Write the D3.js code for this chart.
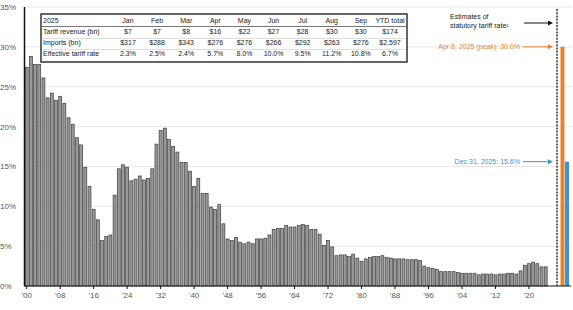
<!DOCTYPE html>
<html>
<head>
<meta charset="utf-8">
<script src="https://cdn.jsdelivr.net/npm/d3@7"></script>
<style>
body { margin: 0; background: #fff; }
svg { display: block; font-family: "Liberation Sans", Arial, sans-serif; }
</style>
</head>
<body>
<div id="chart"></div>
<script>
// effective tariff rate, 1900 - 2024 (%)
const startYear = 1900;
const rates = [
	27.4, 28.8, 27.8, 27.8, 26.1, 23.6, 24.2, 23.3, 23.8, 22.9,
	21.1, 20.3, 18.6, 17.7, 14.9, 12.5, 9.6, 8.3, 5.7, 6.2,
	6.4, 11.4, 14.7, 15.2, 14.9, 13.2, 13.4, 13.8, 13.3, 13.5,
	14.7, 17.8, 19.5, 19.8, 18.4, 17.5, 16.8, 15.5, 15.5, 14.4,
	12.5, 13.5, 11.6, 11.6, 9.9, 9.6, 10.2, 7.8, 5.9, 5.7,
	6.1, 5.5, 5.3, 5.5, 5.3, 5.9, 5.9, 6.0, 6.4, 7.1,
	7.2, 7.2, 7.6, 7.4, 7.4, 7.6, 7.7, 7.6, 7.1, 7.1,
	6.5, 5.1, 5.7, 4.9, 3.8, 3.9, 3.9, 3.7, 4.0, 3.5,
	3.1, 3.4, 3.6, 3.7, 3.7, 3.8, 3.6, 3.5, 3.4, 3.4,
	3.4, 3.3, 3.3, 3.3, 3.2, 2.5, 2.3, 2.2, 2.1, 1.8,
	1.8, 1.8, 1.8, 1.7, 1.6, 1.6, 1.6, 1.6, 1.4, 1.5,
	1.5, 1.5, 1.4, 1.5, 1.5, 1.6, 1.6, 1.5, 1.9, 2.6,
	2.8, 3.0, 2.8, 2.4, 2.4
];
const years = rates.map((d, i) => startYear + i);
const tickYears = [1900, 1908, 1916, 1924, 1932, 1940, 1948, 1956, 1964, 1972, 1980, 1988, 1996, 2004, 2012, 2020];
const yTicks = [0, 5, 10, 15, 20, 25, 30, 35];

// statutory estimates
const estLabels = ["Apr 8, 2025 (peak)", "Dec 31, 2025"];
const estValues = [30.0, 15.6];
const estColors = ["#e8832b", "#3b93d6"];

// 2025 table
const tableCols = ["Jan", "Feb", "Mar", "Apr", "May", "Jun", "Jul", "Aug", "Sep", "YTD total"];
const tableRows = ["Tariff revenue (bn)", "Imports (bn)", "Effective tariff rate"];
const revenue = ["$7", "$7", "$8", "$16", "$22", "$27", "$28", "$30", "$30", "$174"];
const imports = ["$317", "$288", "$343", "$276", "$276", "$266", "$292", "$263", "$276", "$2,597"];
const effRate = ["2.3%", "2.5%", "2.4%", "5.7%", "8.0%", "10.0%", "9.5%", "11.2%", "10.8%", "6.7%"];

const W = 573, H = 310;
const svg = d3.select("#chart").append("svg")
	.attr("width", W)
	.attr("height", H);

const x = d3.scaleBand()
	.domain(years)
	.range([24.6, 547.8])
	.paddingInner(0.3)
	.paddingOuter(0.15);

const xEst = d3.scaleBand()
	.domain(estLabels)
	.range([560.5, 569])
	.paddingInner(0.12);

const y = d3.scaleLinear()
	.domain([0, 35])
	.range([286, 7]);

// gridlines
svg.append("g")
	.selectAll("line")
	.data(yTicks.slice(1))
	.join("line")
	.attr("x1", 25).attr("x2", 572)
	.attr("y1", d => y(d)).attr("y2", d => y(d))
	.attr("stroke", "#e6e6e6")
	.attr("stroke-width", 1);

// y labels
svg.append("g")
	.selectAll("text")
	.data(yTicks)
	.join("text")
	.attr("x", 0)
	.attr("y", d => y(d) + 3)
	.attr("font-size", 8)
	.attr("fill", "#555")
	.text(d => d + "%");

// bars
svg.append("g")
	.selectAll("rect")
	.data(rates)
	.join("rect")
	.attr("x", (d, i) => x(years[i]))
	.attr("y", d => y(d))
	.attr("width", x.bandwidth())
	.attr("height", d => y(0) - y(d))
	.attr("fill", "#9a9a9a")
	.attr("stroke", "#3a3a3a")
	.attr("stroke-width", 0.7);

// estimate bars
svg.append("g")
	.selectAll("rect")
	.data(estValues)
	.join("rect")
	.attr("x", (d, i) => xEst(estLabels[i]))
	.attr("y", d => y(d))
	.attr("width", xEst.bandwidth())
	.attr("height", d => y(0) - y(d))
	.attr("fill", (d, i) => estColors[i]);

// dashed divider
svg.append("line")
	.attr("x1", 557).attr("x2", 557)
	.attr("y1", 9).attr("y2", y(0))
	.attr("stroke", "#222")
	.attr("stroke-width", 1.4)
	.attr("stroke-dasharray", "2,1.2");

// axes
svg.append("line")
	.attr("x1", 24.5).attr("x2", 24.5)
	.attr("y1", y(35)).attr("y2", y(0))
	.attr("stroke", "#111").attr("stroke-width", 1.5);
svg.append("line")
	.attr("x1", 24).attr("x2", 571)
	.attr("y1", y(0)).attr("y2", y(0))
	.attr("stroke", "#111").attr("stroke-width", 1.2);

const xt = svg.append("g")
	.selectAll("g")
	.data(tickYears)
	.join("g")
	.attr("transform", d => `translate(${x(d) + x.bandwidth() / 2},${y(0)})`);
xt.append("line").attr("y2", 3).attr("stroke", "#111");
xt.append("text")
	.attr("y", 12)
	.attr("text-anchor", "middle")
	.attr("font-size", 8)
	.attr("fill", "#555")
	.text(d => "'" + String(d).slice(2));

// annotations
const arrow = (x1, x2, yy, col) => {
	svg.append("line")
		.attr("x1", x1).attr("x2", x2 - 4)
		.attr("y1", yy).attr("y2", yy)
		.attr("stroke", col).attr("stroke-width", 1);
	svg.append("path")
		.attr("d", `M${x2},${yy}L${x2 - 5},${yy - 2.5}L${x2 - 5},${yy + 2.5}Z`)
		.attr("fill", col);
};

svg.append("text")
	.attr("x", 450).attr("y", 19)
	.attr("font-size", 7).attr("fill", "#222")
	.text("Estimates of");
svg.append("text")
	.attr("x", 450).attr("y", 27.5)
	.attr("font-size", 7).attr("fill", "#222")
	.text("statutory tariff rate¹");
arrow(524, 553, 23, "#111");

estLabels.forEach((lab, i) => {
	const yy = y(estValues[i]);
	svg.append("text")
		.attr("x", 520).attr("y", yy + 2.5)
		.attr("text-anchor", "end")
		.attr("font-size", 7)
		.attr("fill", estColors[i])
		.text(`${lab}: ${estValues[i].toFixed(1)}%`);
	arrow(523, 553, yy, estColors[i]);
});

// 2025 table
const tb = svg.append("g");
tb.append("rect")
	.attr("x", 41).attr("y", 14)
	.attr("width", 366).attr("height", 48)
	.attr("fill", "#fff")
	.attr("stroke", "#333")
	.attr("stroke-width", 1.5);

const cx = d3.scalePoint()
	.domain(tableCols)
	.range([128, 390]);

const rowY = [33.5, 44.5, 55.5];
tb.append("line")
	.attr("x1", 42).attr("x2", 406)
	.attr("y1", 26.5).attr("y2", 26.5)
	.attr("stroke", "#555").attr("stroke-width", 0.8);
[38.5, 49.5].forEach(v => {
	tb.append("line")
		.attr("x1", 42).attr("x2", 406)
		.attr("y1", v).attr("y2", v)
		.attr("stroke", "#c8c8c8").attr("stroke-width", 0.6);
});

tb.append("text")
	.attr("x", 43).attr("y", 23)
	.attr("font-size", 7).attr("fill", "#222")
	.text("2025");
tb.append("g")
	.selectAll("text")
	.data(tableCols)
	.join("text")
	.attr("x", d => cx(d)).attr("y", 23)
	.attr("text-anchor", "middle")
	.attr("font-size", 7).attr("fill", "#222")
	.text(d => d);

[revenue, imports, effRate].forEach((row, r) => {
	tb.append("text")
		.attr("x", 43).attr("y", rowY[r])
		.attr("font-size", 7).attr("fill", "#222")
		.text(tableRows[r]);
	tb.append("g")
		.selectAll("text")
		.data(row)
		.join("text")
		.attr("x", (d, i) => cx(tableCols[i])).attr("y", rowY[r])
		.attr("text-anchor", "middle")
		.attr("font-size", 7).attr("fill", "#222")
		.text(d => d);
});
</script>
</body>
</html>
